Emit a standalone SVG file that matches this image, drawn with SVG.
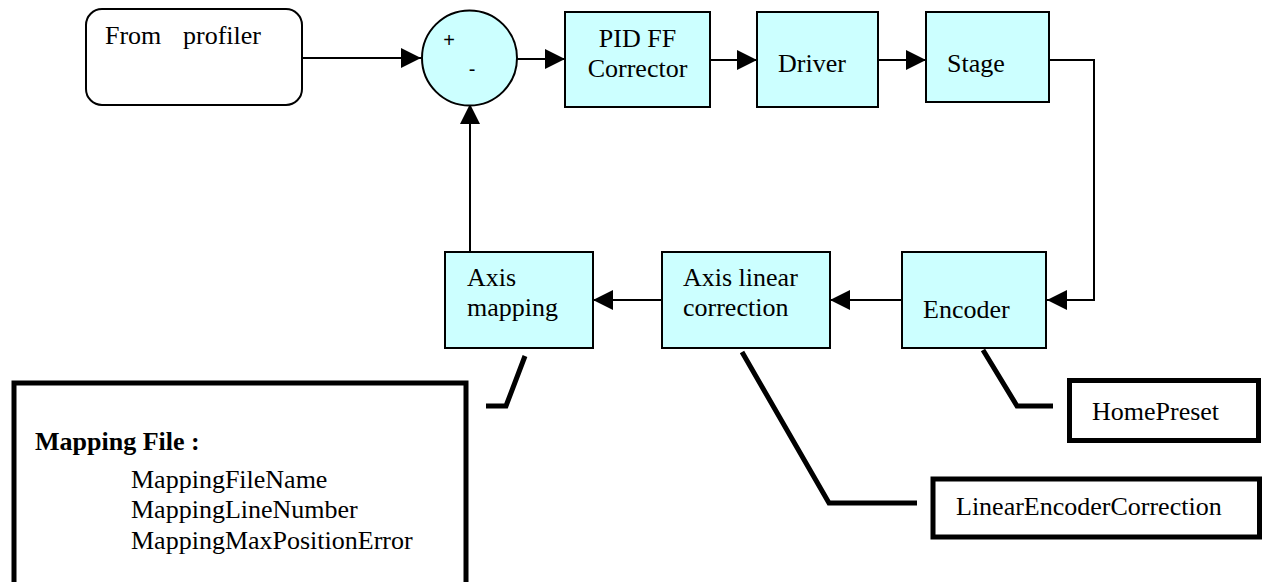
<svg xmlns="http://www.w3.org/2000/svg" width="1262" height="582" viewBox="0 0 1262 582">
<style>
.t{font-family:'Liberation Serif','DejaVu Serif',serif;font-size:26px;fill:#000}
.blk{fill:#CCFFFF;stroke:#000;stroke-width:2}
.wire{fill:none;stroke:#000;stroke-width:2}
.call{fill:none;stroke:#000;stroke-width:5}
.note{fill:#fff;stroke:#000;stroke-width:5}
.sign{font-family:'Liberation Sans',Arial,sans-serif;font-size:20px}
</style>
<defs>
<marker id="ah" markerUnits="userSpaceOnUse" markerWidth="20" markerHeight="20" refX="20" refY="10" orient="auto">
<path d="M0,0 L20,10 L0,20 z" fill="#000"/>
</marker>
</defs>
<rect width="1262" height="582" fill="#fff"/>
<g id="connectors">
<line class="wire" x1="302" y1="58" x2="421" y2="58" marker-end="url(#ah)"/>
<line class="wire" x1="517" y1="59" x2="565" y2="59" marker-end="url(#ah)"/>
<line class="wire" x1="710" y1="60" x2="757" y2="60" marker-end="url(#ah)"/>
<line class="wire" x1="878" y1="60" x2="926" y2="60" marker-end="url(#ah)"/>
<polyline class="wire" points="1046,60 1094,60 1094,300 1047,300" marker-end="url(#ah)"/>
<line class="wire" x1="902" y1="300" x2="830" y2="300" marker-end="url(#ah)"/>
<line class="wire" x1="662" y1="300" x2="593" y2="300" marker-end="url(#ah)"/>
<line class="wire" x1="470" y1="252" x2="470" y2="104" marker-end="url(#ah)"/>
<polyline class="call" points="525,356 506,406 486,406"/>
<polyline class="call" points="742,352 829,503 917,503"/>
<polyline class="call" points="983,350 1017,406 1053,406"/>
</g>
<g id="profiler" class="t">
<rect x="86" y="9" width="216" height="96" rx="16" fill="#fff" stroke="#000" stroke-width="2"/>
<text x="105" y="44">From</text>
<text x="183" y="44">profiler</text>
</g>
<g id="summer">
<circle class="blk" cx="469.5" cy="58" r="47.5"/>
<text class="sign" x="449" y="47" text-anchor="middle">+</text>
<text class="sign" x="472" y="76" text-anchor="middle">-</text>
</g>
<g id="pid" class="t">
<rect class="blk" x="565" y="12" width="145" height="95"/>
<text x="637.5" y="47" text-anchor="middle">PID FF</text>
<text x="637.5" y="77" text-anchor="middle">Corrector</text>
</g>
<g id="driver" class="t">
<rect class="blk" x="757" y="12" width="121" height="95"/>
<text x="778" y="72">Driver</text>
</g>
<g id="stage" class="t">
<rect class="blk" x="926" y="12" width="123" height="90"/>
<text x="947" y="72">Stage</text>
</g>
<g id="encoder" class="t">
<rect class="blk" x="902" y="252" width="144" height="96"/>
<text x="923" y="318">Encoder</text>
</g>
<g id="linear" class="t">
<rect class="blk" x="662" y="252" width="168" height="96"/>
<text x="683" y="286">Axis linear</text>
<text x="683" y="316">correction</text>
</g>
<g id="mapping" class="t">
<rect class="blk" x="445" y="252" width="148" height="96"/>
<text x="467" y="286">Axis</text>
<text x="467" y="316">mapping</text>
</g>
<g id="mappingfile" class="t">
<rect class="note" x="14" y="383" width="452" height="220"/>
<text x="35" y="450" font-weight="bold">Mapping File :</text>
<text x="131" y="488">MappingFileName</text>
<text x="131" y="518">MappingLineNumber</text>
<text x="131" y="549">MappingMaxPositionError</text>
</g>
<g id="homepreset" class="t">
<rect class="note" x="1069.5" y="380.5" width="189" height="60"/>
<text x="1092" y="420">HomePreset</text>
</g>
<g id="lec" class="t">
<rect class="note" x="933" y="479" width="326.5" height="58"/>
<text x="956" y="515">LinearEncoderCorrection</text>
</g>
</svg>
